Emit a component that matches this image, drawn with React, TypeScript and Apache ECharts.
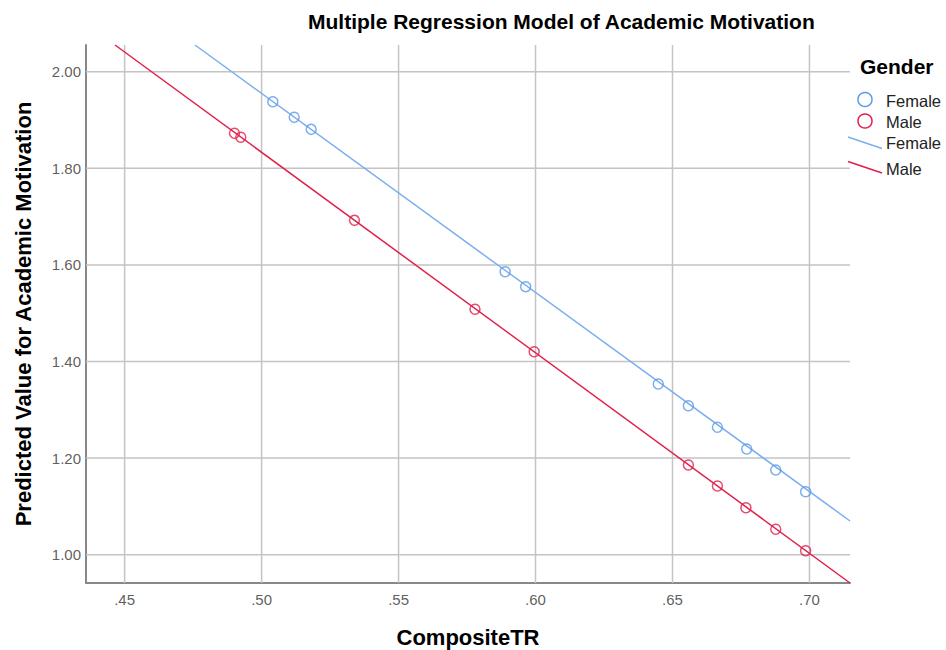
import React, { useEffect, useRef } from "react";
import * as echarts from "echarts";

const femaleX = [0.5041, 0.5119, 0.5181, 0.5889, 0.5964, 0.6448, 0.6558, 0.6664, 0.6771, 0.6877, 0.6986];
const femaleY = [1.9379, 1.9056, 1.8807, 1.5859, 1.5549, 1.3534, 1.3085, 1.2638, 1.2188, 1.1754, 1.1304];
const maleX = [0.4901, 0.4924, 0.5339, 0.5779, 0.5995, 0.6558, 0.6664, 0.6768, 0.6877, 0.6986];
const maleY = [1.8725, 1.8642, 1.6923, 1.5081, 1.4203, 1.1857, 1.1422, 1.0973, 1.0526, 1.0083];
const femaleLine = [[0.4757, 2.0553], [0.7148, 1.0698]];
const maleLine = [[0.4465, 2.0553], [0.7148, 0.9414]];
const xTicks = [0.45, 0.5, 0.55, 0.6, 0.65, 0.7];
const yTicks = [1.0, 1.2, 1.4, 1.6, 1.8, 2.0];

const BLUE = "#7aaef0";
const BLUE_M = "#5b9be6";
const RED = "#e0204a";
const FONT = "Liberation Sans, Arial, sans-serif";
const XMIN = 0.4359, XMAX = 0.7148, YMIN = 0.9414, YMAX = 2.0553;

export default function App() {
  const ref = useRef<HTMLDivElement>(null);
  useEffect(() => {
    const chart = echarts.init(ref.current!, null, { renderer: "svg" });
    const zip = (xs: number[], ys: number[]) => xs.map((x, i) => [x, ys[i]]);
    const legendText = (text: string, y: number) => ({
      type: "text",
      x: 886,
      y,
      style: { text, fontSize: 16.5, fill: "#222", fontFamily: FONT, verticalAlign: "middle" },
    });
    chart.setOption({
      animation: false,
      backgroundColor: "#fff",
      textStyle: { fontFamily: FONT },
      title: {
        text: "Multiple Regression Model of Academic Motivation",
        left: 303,
        top: 6,
        textStyle: { fontSize: 21, fontWeight: "bold", color: "#000", fontFamily: FONT },
      },
      grid: { left: 86, right: 96, top: 45, bottom: 67, containLabel: false, outerBoundsMode: "none" },
      xAxis: {
        type: "value",
        min: XMIN,
        max: XMAX,
        name: "CompositeTR",
        nameLocation: "middle",
        nameGap: 43,
        nameTextStyle: { fontSize: 22, fontWeight: "bold", color: "#000", fontFamily: FONT },
        axisLine: { show: true, onZero: false, lineStyle: { color: "#888", width: 2 } },
        axisTick: { show: false },
        splitLine: { show: false },
        axisLabel: { show: false },
      },
      yAxis: {
        type: "value",
        min: YMIN,
        max: YMAX,
        name: "Predicted Value for Academic Motivation",
        nameLocation: "middle",
        nameGap: 52,
        nameTextStyle: { fontSize: 22, fontWeight: "bold", color: "#000", fontFamily: FONT },
        axisLine: { show: true, onZero: false, lineStyle: { color: "#888", width: 2 } },
        axisTick: { show: false },
        splitLine: { show: false },
        axisLabel: { show: false },
      },
      series: [
        {
          type: "line",
          data: xTicks.flatMap((t) => [[t, YMIN], [t, YMAX], "-"]).slice(0, -1),
          symbol: "none",
          lineStyle: { color: "#c4c4c4", width: 1.5 },
          silent: true,
          connectNulls: false,
          z: 1,
        },
        {
          type: "line",
          data: yTicks.flatMap((t) => [[XMIN, t], [XMAX, t], "-"]).slice(0, -1),
          symbol: "none",
          lineStyle: { color: "#c4c4c4", width: 1.5 },
          silent: true,
          connectNulls: false,
          z: 1,
        },
        {
          type: "scatter",
          data: xTicks.map((t) => [t, YMIN]),
          symbolSize: 0,
          silent: true,
          label: {
            show: true,
            position: "bottom",
            distance: 9,
            formatter: (p: any) => p.value[0].toFixed(2).replace(/^0/, ""),
            fontSize: 15,
            color: "#333",
            fontFamily: FONT,
          },
        },
        {
          type: "scatter",
          data: yTicks.map((t) => [XMIN, t]),
          symbolSize: 0,
          silent: true,
          label: {
            show: true,
            position: "left",
            distance: 5,
            formatter: (p: any) => p.value[1].toFixed(2),
            fontSize: 15,
            color: "#333",
            fontFamily: FONT,
          },
        },
        {
          type: "line",
          data: femaleLine,
          symbol: "none",
          lineStyle: { color: BLUE, width: 1.5 },
          clip: true,
          z: 3,
        },
        {
          type: "line",
          data: maleLine,
          symbol: "none",
          lineStyle: { color: RED, width: 1.5 },
          clip: true,
          z: 3,
        },
        {
          type: "scatter",
          data: zip(femaleX, femaleY),
          symbol: "circle",
          symbolSize: 10,
          itemStyle: { color: "rgba(0,0,0,0)", borderColor: BLUE_M, borderWidth: 1.5 },
          z: 4,
        },
        {
          type: "scatter",
          data: zip(maleX, maleY),
          symbol: "circle",
          symbolSize: 10,
          itemStyle: { color: "rgba(0,0,0,0)", borderColor: RED, borderWidth: 1.5 },
          z: 4,
        },
      ],
      graphic: [
        { type: "text", x: 860, y: 66.5, style: { text: "Gender", fontSize: 21, fontWeight: "bold", fill: "#000", fontFamily: FONT, verticalAlign: "middle" } },
        { type: "circle", shape: { cx: 865, cy: 99.5, r: 7 }, style: { fill: "none", stroke: BLUE_M, lineWidth: 1.5 } },
        legendText("Female", 100.5),
        { type: "circle", shape: { cx: 865, cy: 121, r: 7 }, style: { fill: "none", stroke: RED, lineWidth: 1.5 } },
        legendText("Male", 121.5),
        { type: "line", shape: { x1: 848, y1: 137, x2: 882, y2: 148.5 }, style: { stroke: BLUE, lineWidth: 1.5 } },
        legendText("Female", 143),
        { type: "line", shape: { x1: 848, y1: 161.5, x2: 882, y2: 173 }, style: { stroke: RED, lineWidth: 1.5 } },
        legendText("Male", 168.5),
      ],
    });
    return () => chart.dispose();
  }, []);
  return <div ref={ref} style={{ width: 946, height: 650, position: "absolute", left: 0, top: 0 }} />;
}
